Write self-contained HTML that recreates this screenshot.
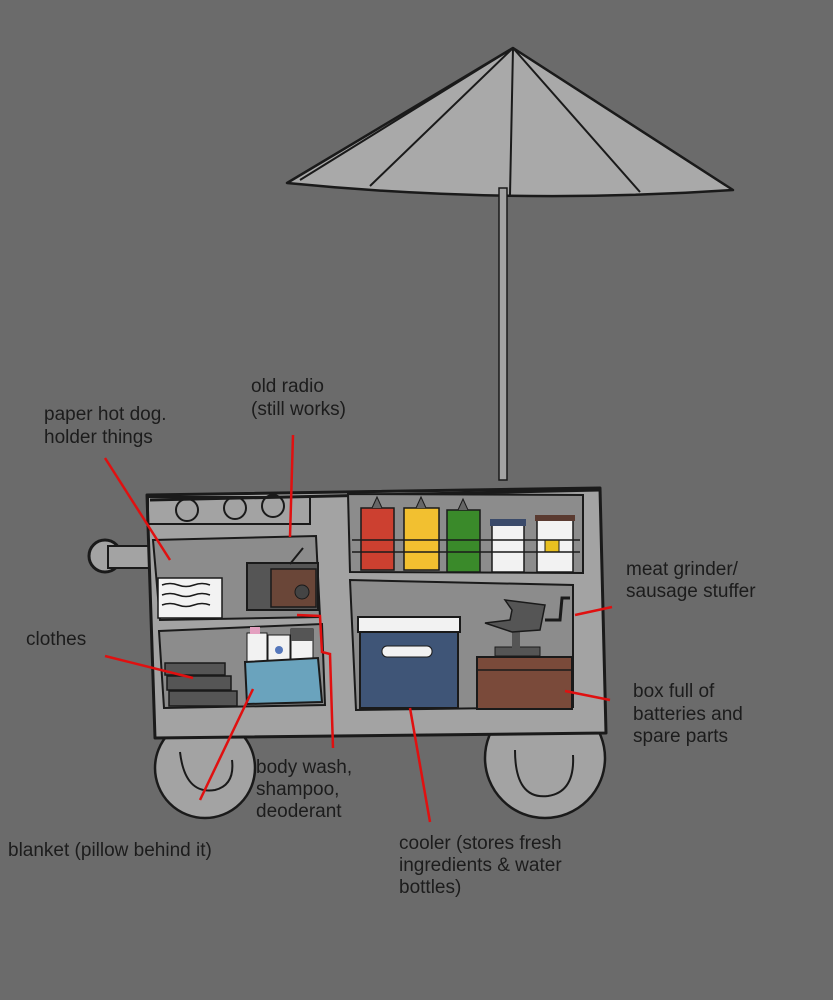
<!DOCTYPE html>
<html><head><style>
body{margin:0;background:#6b6b6b;}
svg{display:block}
text{font-family:"Liberation Sans",sans-serif;font-size:19px;fill:#1c1c1c;}
</style></head><body>
<svg width="833" height="1000" viewBox="0 0 833 1000">
<rect width="833" height="1000" fill="#6b6b6b"/>
<!-- umbrella -->
<path d="M513,48 L287,183 Q510,205 733,190 Z" fill="#a9a9a9" stroke="#1a1a1a" stroke-width="2.5" stroke-linejoin="round"/>
<path d="M513,48 L370,186 M513,48 L510,195 M513,48 L640,192 M513,48 L300,180 M513,48 L725,185" stroke="#1a1a1a" stroke-width="2" fill="none"/>
<rect x="499" y="188" width="8" height="292" fill="#a3a3a3" stroke="#1a1a1a" stroke-width="1.5"/>
<!-- wheels -->
<circle cx="205" cy="768" r="50" fill="#a3a3a3" stroke="#1a1a1a" stroke-width="2.5"/>
<path d="M180,752 Q185,795 215,790 Q235,785 232,760" fill="none" stroke="#1a1a1a" stroke-width="2"/>
<circle cx="545" cy="758" r="60" fill="#a3a3a3" stroke="#1a1a1a" stroke-width="2.5"/>
<path d="M515,750 Q515,800 548,796 Q575,792 573,755" fill="none" stroke="#1a1a1a" stroke-width="2"/>
<!-- handle -->
<circle cx="105" cy="556" r="16" fill="#a3a3a3" stroke="#1a1a1a" stroke-width="3"/>
<rect x="108" y="546" width="42" height="22" fill="#a3a3a3" stroke="#1a1a1a" stroke-width="2"/>
<!-- body -->
<path d="M147,495 L600,488 L606,733 L155,738 Z" fill="#a3a3a3" stroke="#1a1a1a" stroke-width="3" stroke-linejoin="round"/>
<path d="M150,500 L600,490" stroke="#1a1a1a" stroke-width="3"/>
<rect x="148" y="497" width="162" height="27" fill="none" stroke="#1a1a1a" stroke-width="2"/>
<circle cx="187" cy="510" r="11" fill="none" stroke="#1a1a1a" stroke-width="2"/>
<circle cx="235" cy="508" r="11" fill="none" stroke="#1a1a1a" stroke-width="2"/>
<circle cx="273" cy="506" r="11" fill="none" stroke="#1a1a1a" stroke-width="2"/>
<!-- shelves -->
<path d="M153,540 L316,536 L320,617 L160,620 Z" fill="#8c8c8c" stroke="#1a1a1a" stroke-width="2"/>
<path d="M159,631 L322,624 L325,705 L164,708 Z" fill="#8c8c8c" stroke="#1a1a1a" stroke-width="2"/>
<path d="M348,494 L583,495 L583,573 L350,572 Z" fill="#8c8c8c" stroke="#1a1a1a" stroke-width="2"/>
<path d="M350,580 L573,585 L573,707 L356,710 Z" fill="#8c8c8c" stroke="#1a1a1a" stroke-width="2"/>
<!-- paper -->
<rect x="158" y="578" width="64" height="40" fill="#f2f2f2" stroke="#1a1a1a" stroke-width="1.5"/>
<path d="M162,585 q8,-3 16,0 t16,0 t16,0 M162,595 q8,-3 16,0 t16,0 t16,0 M162,605 q8,-3 16,0 t16,0 t16,0" stroke="#1a1a1a" fill="none" stroke-width="1.5"/>
<!-- radio -->
<rect x="247" y="563" width="71" height="47" fill="#555" stroke="#1a1a1a" stroke-width="2"/>
<rect x="271" y="569" width="45" height="38" fill="#6a4638" stroke="#1a1a1a" stroke-width="1.5"/>
<circle cx="302" cy="592" r="7" fill="#444" stroke="#1a1a1a"/>
<line x1="290" y1="564" x2="303" y2="548" stroke="#1a1a1a" stroke-width="2"/>
<!-- clothes -->
<rect x="165" y="663" width="60" height="12" fill="#555" stroke="#1a1a1a" stroke-width="1.5"/>
<rect x="167" y="676" width="64" height="14" fill="#555" stroke="#1a1a1a" stroke-width="1.5"/>
<rect x="169" y="691" width="68" height="15" fill="#555" stroke="#1a1a1a" stroke-width="1.5"/>
<!-- bottles -->
<rect x="247" y="633" width="20" height="30" fill="#f2f2f2" stroke="#1a1a1a"/>
<rect x="250" y="627" width="10" height="7" fill="#e4a0c0"/>
<rect x="268" y="635" width="22" height="28" fill="#f2f2f2" stroke="#1a1a1a"/>
<circle cx="279" cy="650" r="4" fill="#5577bb"/>
<rect x="291" y="629" width="22" height="33" fill="#f2f2f2" stroke="#1a1a1a"/>
<rect x="291" y="629" width="22" height="12" fill="#555"/>
<!-- blanket -->
<path d="M245,662 L318,658 L322,702 L247,704 Z" fill="#6aa3bd" stroke="#1a1a1a" stroke-width="2"/>
<!-- condiments -->
<rect x="361" y="508" width="33" height="62" fill="#cc4030" stroke="#1a1a1a" stroke-width="1.5"/>
<rect x="404" y="508" width="35" height="62" fill="#f2c030" stroke="#1a1a1a" stroke-width="1.5"/>
<rect x="447" y="510" width="33" height="62" fill="#3a8a2a" stroke="#1a1a1a" stroke-width="1.5"/>
<path d="M372,508 L377,497 L382,508 M416,508 L421,497 L426,508 M458,510 L463,499 L468,510" fill="#666" stroke="#1a1a1a"/>
<rect x="492" y="523" width="32" height="49" fill="#f2f2f2" stroke="#1a1a1a" stroke-width="1.5"/>
<rect x="490" y="519" width="36" height="7" fill="#3a4a6a"/>
<rect x="537" y="518" width="36" height="54" fill="#f2f2f2" stroke="#1a1a1a" stroke-width="1.5"/>
<rect x="535" y="515" width="40" height="6" fill="#5a3a30"/>
<rect x="545" y="540" width="14" height="12" fill="#e8c020" stroke="#1a1a1a"/>
<path d="M352,540 L580,540 M352,552 L580,552" stroke="#1a1a1a" stroke-width="1.5"/>
<!-- cooler -->
<rect x="360" y="618" width="98" height="90" fill="#3f5577" stroke="#1a1a1a" stroke-width="2"/>
<rect x="358" y="617" width="102" height="15" fill="#f2f2f2" stroke="#1a1a1a" stroke-width="2"/>
<rect x="382" y="646" width="50" height="11" rx="5" fill="#f2f2f2" stroke="#1a1a1a"/>
<!-- grinder & box -->
<rect x="477" y="657" width="95" height="52" fill="#7a4a3a" stroke="#1a1a1a" stroke-width="2"/>
<line x1="477" y1="670" x2="572" y2="670" stroke="#1a1a1a" stroke-width="1.5"/>
<rect x="495" y="647" width="45" height="9" fill="#555" stroke="#1a1a1a"/>
<rect x="512" y="630" width="8" height="18" fill="#555"/>
<path d="M485,623 L510,620 L512,610 L505,600 L545,605 L540,630 L512,632 Z" fill="#555" stroke="#1a1a1a" stroke-width="1.5"/>
<path d="M545,620 L560,620 L562,598 L570,598" stroke="#1a1a1a" stroke-width="3" fill="none"/>
<!-- red leader lines -->
<g stroke="#e01010" stroke-width="2.5" fill="none">
<path d="M105,458 L170,560"/>
<path d="M293,435 L290,537"/>
<path d="M105,656 L193,678"/>
<path d="M200,800 L253,689"/>
<path d="M297,615 L320,616 L322,652 L330,654 L333,748"/>
<path d="M410,708 L430,822"/>
<path d="M575,615 L612,607"/>
<path d="M565,691 L610,700"/>
</g>
<!-- labels -->
<text x="44" y="420">paper hot dog.</text>
<text x="44" y="443">holder things</text>
<text x="251" y="392">old radio</text>
<text x="251" y="415">(still works)</text>
<text x="26" y="645">clothes</text>
<text x="626" y="575">meat grinder/</text>
<text x="626" y="597">sausage stuffer</text>
<text x="633" y="697">box full of</text>
<text x="633" y="720">batteries and</text>
<text x="633" y="742">spare parts</text>
<text x="256" y="773">body wash,</text>
<text x="256" y="795">shampoo,</text>
<text x="256" y="817">deoderant</text>
<text x="8" y="856">blanket (pillow behind it)</text>
<text x="399" y="849">cooler (stores fresh</text>
<text x="399" y="871">ingredients &amp; water</text>
<text x="399" y="893">bottles)</text>
</svg>
</body></html>
